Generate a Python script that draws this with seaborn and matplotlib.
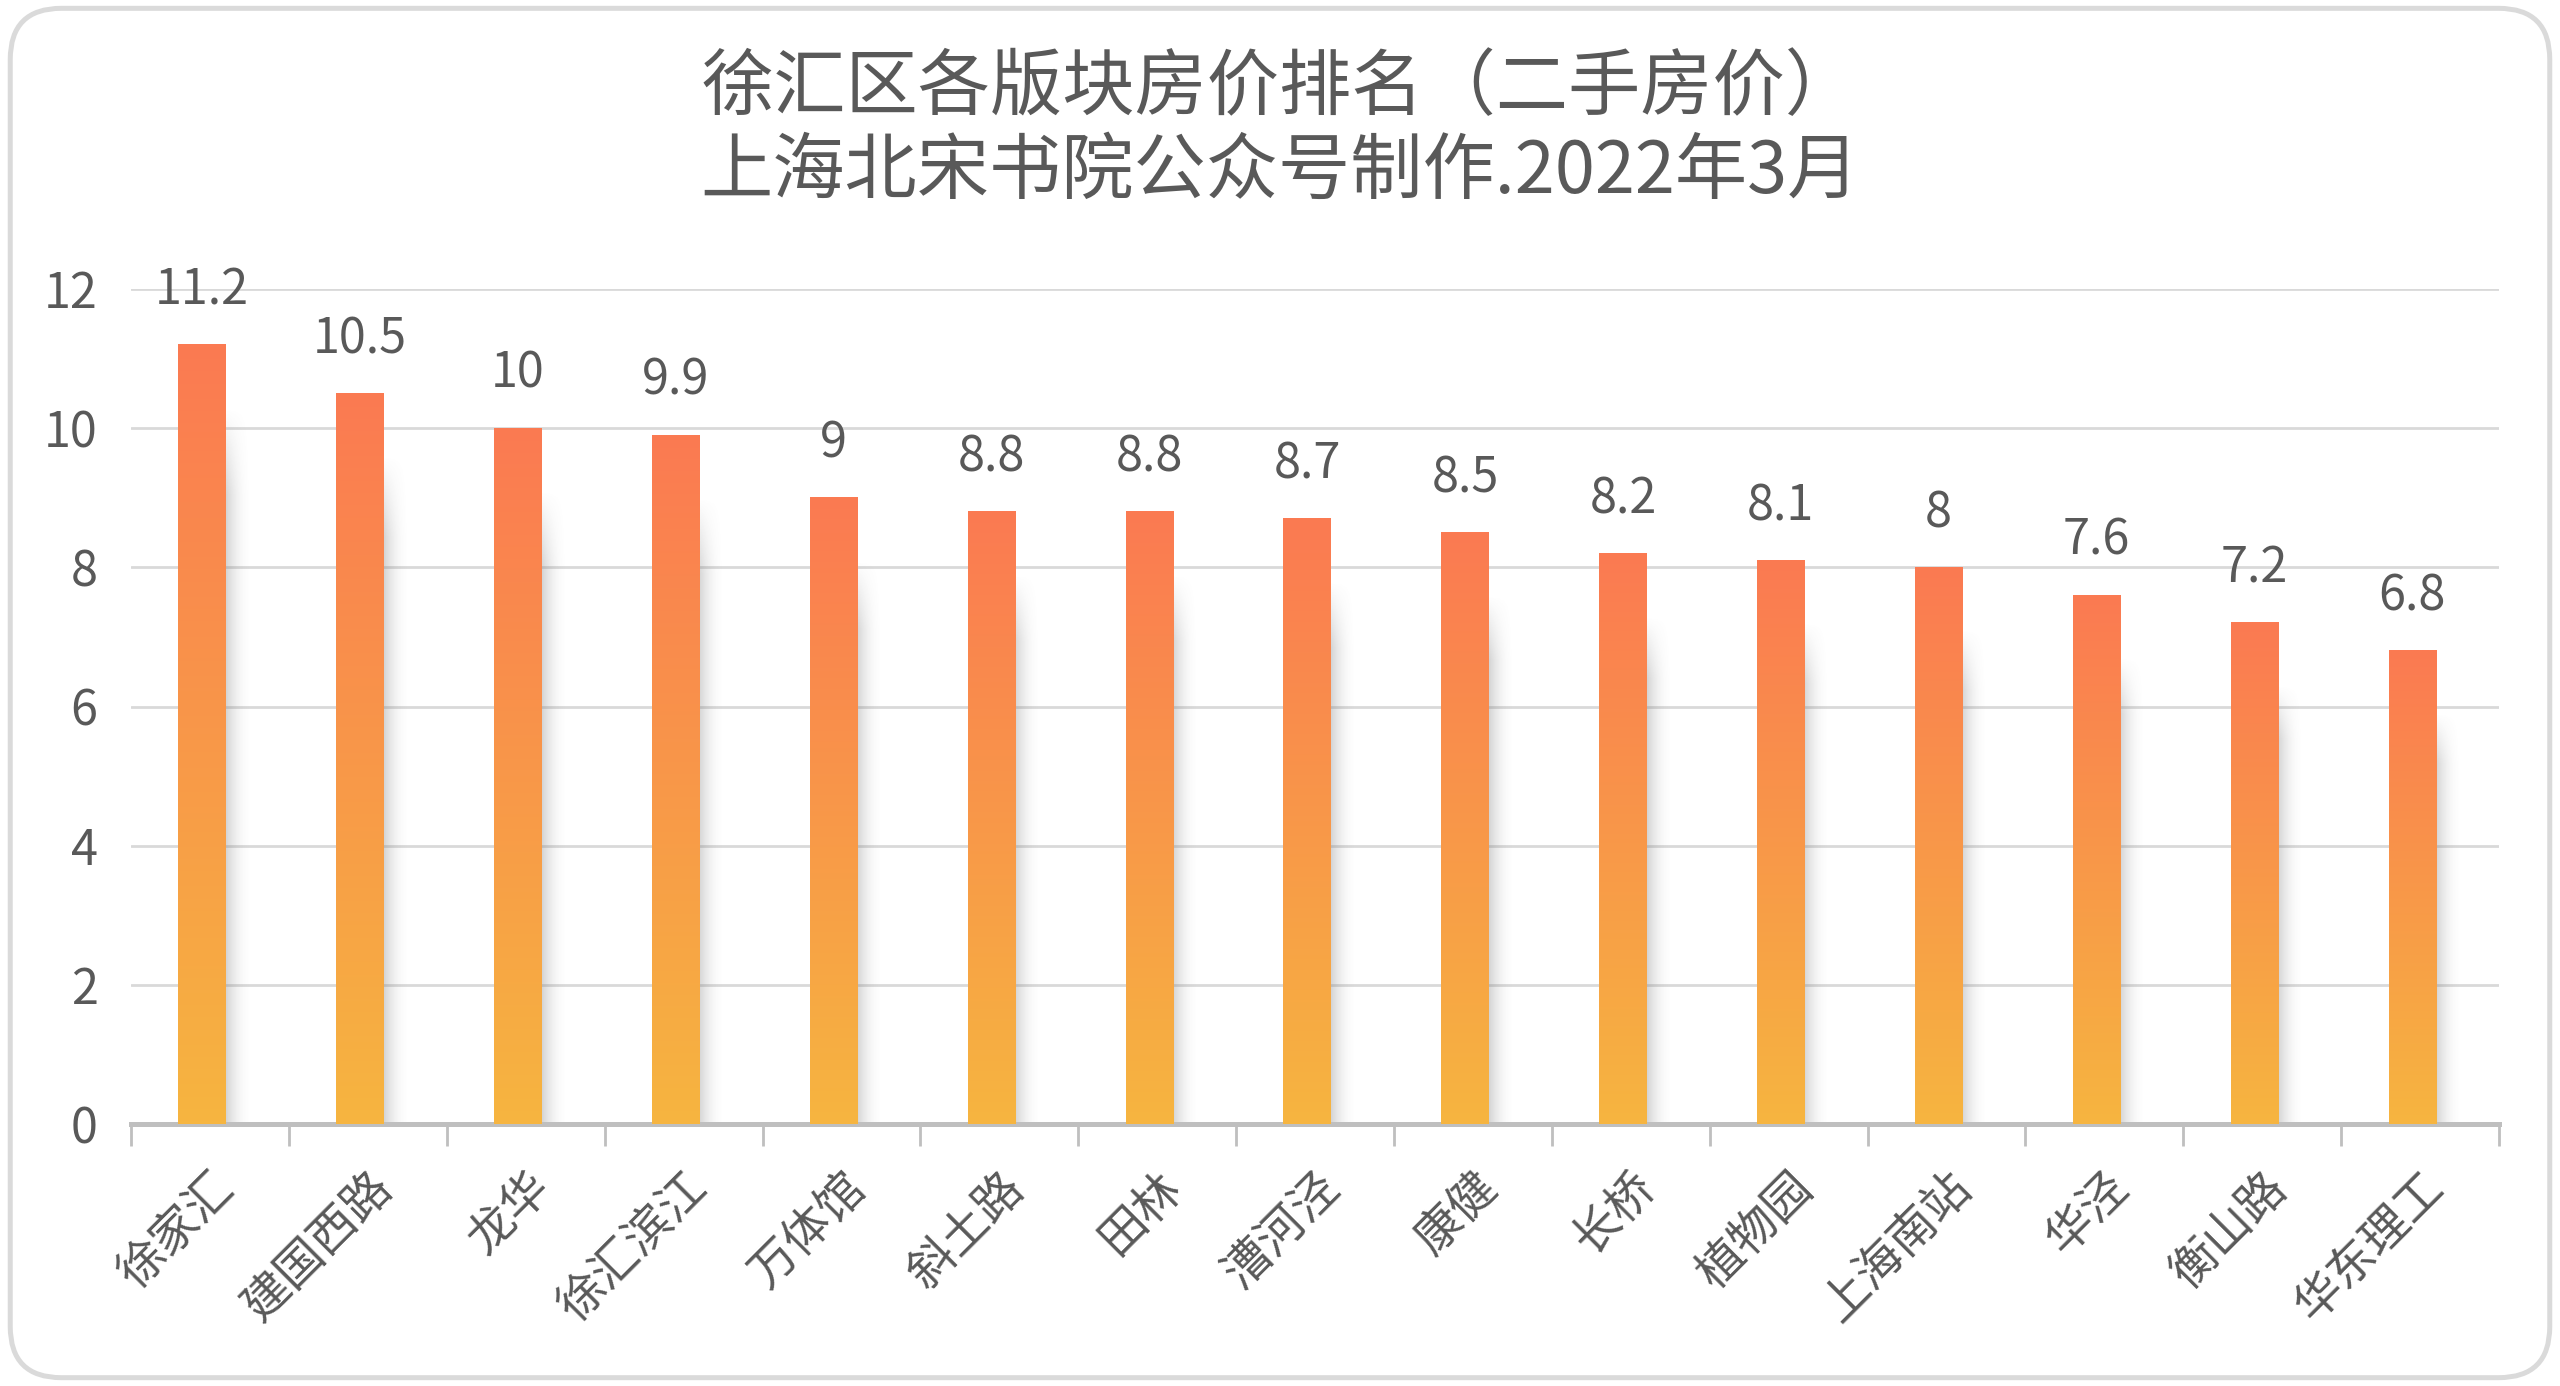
import numpy as np
import pandas as pd
import seaborn as sns
import matplotlib.pyplot as plt
import matplotlib.transforms as mtransforms
from matplotlib.patches import FancyBboxPatch
from matplotlib.colors import to_rgb

districts = ['徐家汇', '建国西路', '龙华', '徐汇滨江', '万体馆', '斜土路', '田林', '漕河泾',
             '康健', '长桥', '植物园', '上海南站', '华泾', '衡山路', '华东理工']
prices = [11.2, 10.5, 10, 9.9, 9, 8.8, 8.8, 8.7, 8.5, 8.2, 8.1, 8, 7.6, 7.2, 6.8]
y_ticks = [0, 2, 4, 6, 8, 10, 12]

df = pd.DataFrame({'district': districts, 'price': prices})

sns.set_theme(style='white')
plt.rcParams['font.family'] = ['Noto Sans CJK SC', 'DejaVu Sans']

text_col = '#595959'
top_col = np.array(to_rgb('#FB7A52'))
bot_col = np.array(to_rgb('#F6B540'))

fig = plt.figure(figsize=(12.8, 6.93), dpi=200)
ax = fig.add_axes([0.0512, 0.189, 0.9250, 0.6025])

sns.barplot(data=df, x='district', y='price', ax=ax, width=0.3, color=top_col)

# gradient fill + soft shadow to the right of each bar
grad = np.linspace(0, 1, 256)[:, None]
grad_img = (bot_col[None, None, :] * (1 - grad[..., None]) + top_col[None, None, :] * grad[..., None])
for p in ax.patches:
    x0, w, h = p.get_x() - 0.05, p.get_width(), p.get_height()
    p.set_visible(False)
    ax.imshow(grad_img, extent=[x0, x0 + w, 0, h], origin='lower', aspect='auto', zorder=3)
    nx, ny = 40, 200
    tx = np.linspace(0, 1, nx)[None, :]
    ty = np.linspace(0, 1, ny)[:, None]
    alpha = 0.3 * (1 - tx) ** 2 * np.clip((1 - ty) / 0.12, 0, 1)
    sh = np.zeros((ny, nx, 4))
    sh[..., :3] = 0.45
    sh[..., 3] = alpha
    ax.imshow(sh, extent=[x0 + w, x0 + w + 0.16, 0, h - 0.9], origin='lower', aspect='auto', zorder=2)

ax.set_xlim(-0.5, len(districts) - 0.5)
ax.set_ylim(0, 12)

for i, v in enumerate(prices):
    ax.text(i - 0.05, v + 0.42, f'{v:g}', ha='center', va='bottom', fontsize=17.5, color=text_col,
            clip_on=False, zorder=4)

ax.set_yticks(y_ticks)
ax.yaxis.grid(True, color='#D9D9D9', linewidth=1.0)
ax.set_axisbelow(True)
ax.tick_params(axis='y', length=0, labelsize=17.5, labelcolor=text_col, pad=12)

ax.set_xticks(range(len(districts)))
ax.set_xticklabels(districts, rotation=45, ha='right', rotation_mode='anchor')
shift = mtransforms.ScaledTranslation(-12 / 200, 0, fig.dpi_scale_trans)
for lbl in ax.get_xticklabels():
    lbl.set_transform(lbl.get_transform() + shift)
ax.set_xticks(np.arange(-0.5, len(districts), 1), minor=True)
ax.tick_params(axis='x', which='major', length=0, labelsize=17, labelcolor=text_col, pad=14)
ax.tick_params(axis='x', which='minor', length=8, width=1.0, color='#BFBFBF', direction='out', bottom=True)
ax.set_xlabel('')
ax.set_ylabel('')

sns.despine(ax=ax, left=True)
ax.spines['bottom'].set_color('#BFBFBF')
ax.spines['bottom'].set_linewidth(1.8)

fig.text(0.5, 0.906, '徐汇区各版块房价排名（二手房价）\n上海北宋书院公众号制作.2022年3月',
         ha='center', va='center', fontsize=26, color=text_col, linespacing=1.2)

border = FancyBboxPatch((0.004, 0.006), 0.992, 0.988, boxstyle='round,pad=0,rounding_size=0.02',
                        transform=fig.transFigure, facecolor='none', edgecolor='#DADADA',
                        linewidth=1.8, mutation_aspect=2560 / 1386)
fig.patches.append(border)

plt.savefig('out.png', dpi=200)
